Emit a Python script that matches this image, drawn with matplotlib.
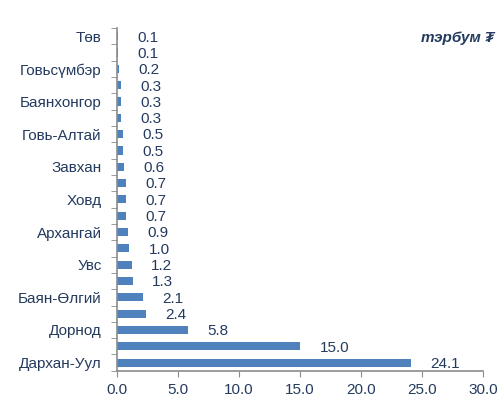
import matplotlib
matplotlib.use('Agg')
import matplotlib.pyplot as plt
import numpy as np

plt.rcParams['font.family'] = ['Liberation Sans', 'DejaVu Sans']

# bottom to top; unlabeled rows on the axis are left blank
aimags = ['Дархан-Уул', '', 'Дорнод', '', 'Баян-Өлгий', '', 'Увс', '',
          'Архангай', '', 'Ховд', '', 'Завхан', '', 'Говь-Алтай', '',
          'Баянхонгор', '', 'Говьсүмбэр', '', 'Төв']
values = [24.1, 15.0, 5.8, 2.4, 2.1, 1.3, 1.2, 1.0, 0.9, 0.7, 0.7,
          0.7, 0.6, 0.5, 0.5, 0.3, 0.3, 0.3, 0.2, 0.1, 0.1]
xticks = [0, 5, 10, 15, 20, 25, 30]

text_col = '#243a5e'
axis_col = '#8c8c8c'
fs = 11

fig = plt.figure(figsize=(5.02, 4.0), dpi=100)
ax = fig.add_axes([0.233, 0.073, 0.729, 0.857])

pos = np.arange(len(values))
ax.barh(pos, values, height=0.5, color='#4f81bd')

for y, v in zip(pos, values):
    ax.annotate('%.1f' % v, (v, y), xytext=(14, -1), textcoords='offset points',
                va='center', ha='left', fontsize=fs, color=text_col)

ax.set_ylim(-0.5, len(values) - 0.5)
ax.set_xlim(0, 30)
ax.set_xticks(xticks)
ax.set_xticklabels(['%.1f' % t for t in xticks], fontsize=fs, color=text_col)
ax.set_yticks(pos)
ax.set_yticklabels(aimags, fontsize=fs, color=text_col)
ax.tick_params(axis='y', length=0, pad=11)
ax.set_yticks(np.arange(len(values) + 1) - 0.5, minor=True)
ax.tick_params(axis='y', which='minor', length=4.5, color=axis_col, direction='out')
ax.tick_params(axis='x', length=4.5, color=axis_col, direction='out', pad=4)

for s in ['top', 'right']:
    ax.spines[s].set_visible(False)
for s in ['left', 'bottom']:
    ax.spines[s].set_color(axis_col)
    ax.spines[s].set_linewidth(1.2)

fig.text(0.985, 0.905, 'тэрбум ₮', ha='right', va='center', fontsize=fs,
         fontweight='bold', fontstyle='italic', color=text_col)

plt.savefig('out.png', dpi=100)
